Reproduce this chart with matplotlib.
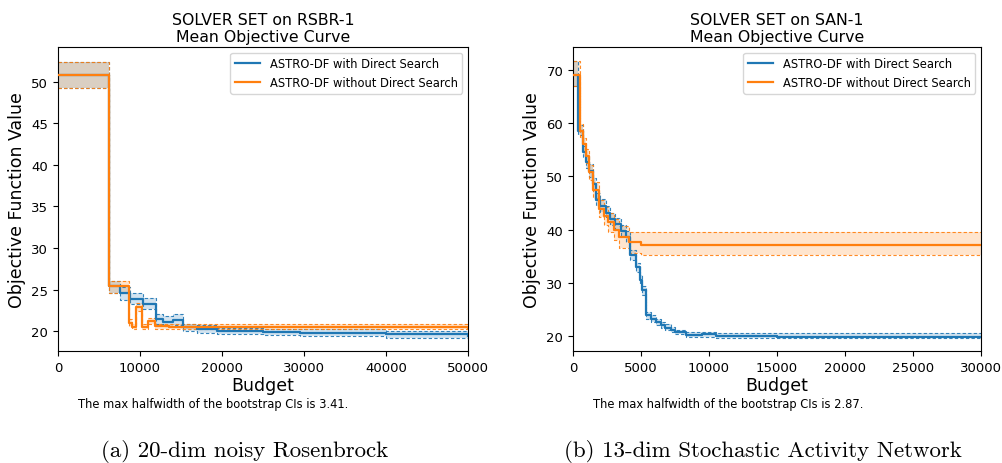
import matplotlib
matplotlib.use('Agg')

import numpy as np
import matplotlib.pyplot as plt

# left panel: RSBR-1 (budget, mean, lower CI, upper CI)
rsbr_with_x = [0, 6200, 7600, 8800, 10400, 12000, 12800, 14000, 15300, 17000,
               19400, 25000, 29500, 40000, 50000]
rsbr_with_y = [50.8, 25.4, 24.6, 23.9, 23.3, 21.4, 21.1, 21.3, 20.5, 20.3,
               20.0, 19.9, 19.75, 19.6, 19.45]
rsbr_with_lo = [49.3, 24.6, 23.8, 23.2, 22.7, 20.8, 20.6, 20.7, 20.0, 19.8,
                19.6, 19.5, 19.35, 19.2, 19.1]
rsbr_with_hi = [52.4, 26.0, 25.3, 24.6, 24.0, 22.0, 21.8, 22.0, 20.9, 20.7,
                20.4, 20.3, 20.2, 20.05, 19.95]

rsbr_wo_x = [0, 6200, 8700, 9000, 9500, 10200, 11000, 11800, 13500, 50000]
rsbr_wo_y = [50.8, 25.4, 21.0, 20.5, 22.9, 20.5, 21.2, 20.6, 20.5, 20.4]
rsbr_wo_lo = [49.3, 24.6, 20.6, 20.2, 22.4, 20.2, 20.8, 20.3, 20.2, 20.1]
rsbr_wo_hi = [52.4, 26.0, 21.4, 20.8, 23.4, 20.8, 21.6, 20.9, 20.8, 20.7]

# right panel: SAN-1
san_with_x = [0, 400, 700, 950, 1200, 1450, 1700, 2000, 2400, 2700, 3100, 3500,
              3900, 4200, 4600, 4900, 5100, 5350, 5700, 6100, 6500, 6800, 7200,
              7500, 8300, 9500, 10500, 15000, 20000, 30000]
san_with_y = [69.1, 58.6, 54.6, 52.7, 51.0, 48.5, 45.6, 44.5, 43.2, 42.0, 41.0,
              39.8, 38.6, 35.2, 32.9, 30.6, 28.6, 23.9, 23.2, 22.6, 22.0, 21.6,
              21.1, 20.7, 20.2, 20.3, 20.0, 19.9, 19.85, 19.8]
san_with_lo = [66.9, 57.8, 53.6, 51.6, 49.8, 47.3, 44.4, 43.4, 42.1, 40.9, 40.0,
               38.8, 37.6, 34.3, 32.0, 29.8, 27.8, 23.2, 22.6, 22.0, 21.5, 21.1,
               20.7, 20.3, 19.9, 19.9, 19.7, 19.6, 19.6, 19.55]
san_with_hi = [71.7, 59.6, 55.7, 53.9, 52.3, 49.7, 46.9, 45.7, 44.4, 43.1, 42.1,
               40.9, 39.7, 36.1, 33.8, 31.5, 29.4, 24.6, 23.9, 23.3, 22.6, 22.2,
               21.7, 21.2, 20.7, 20.8, 20.6, 20.6, 20.55, 20.5]

san_wo_x = [0, 500, 700, 950, 1200, 1500, 1900, 2300, 2600, 3000, 3400, 4100,
            5000, 30000]
san_wo_y = [69.1, 58.6, 56.0, 53.9, 50.8, 47.5, 43.9, 42.5, 41.4, 40.0, 38.6,
            37.6, 37.2, 37.2]
san_wo_lo = [66.9, 57.4, 54.8, 52.6, 49.4, 46.0, 42.3, 40.8, 39.6, 38.1, 36.6,
             35.6, 35.3, 35.3]
san_wo_hi = [71.7, 59.8, 57.2, 55.2, 52.2, 49.0, 45.5, 44.2, 43.2, 41.9, 40.6,
             39.6, 39.5, 39.5]

labels = ["ASTRO-DF with Direct Search", "ASTRO-DF without Direct Search"]
titles = ["SOLVER SET on RSBR-1\nMean Objective Curve",
          "SOLVER SET on SAN-1\nMean Objective Curve"]
halfwidths = ["3.41", "2.87"]
captions = ["(a) 20-dim noisy Rosenbrock", "(b) 13-dim Stochastic Activity Network"]

panels = [
    [(rsbr_with_x, rsbr_with_y, rsbr_with_lo, rsbr_with_hi),
     (rsbr_wo_x, rsbr_wo_y, rsbr_wo_lo, rsbr_wo_hi)],
    [(san_with_x, san_with_y, san_with_lo, san_with_hi),
     (san_wo_x, san_wo_y, san_wo_lo, san_wo_hi)],
]
xlims = [(0, 50000), (0, 30000)]
ylims = [(17.6, 54.2), (17.2, 74.3)]
yticks = [[20, 25, 30, 35, 40, 45, 50], [20, 30, 40, 50, 60, 70]]

colors = ["#1f77b4", "#ff7f0e"]

fig = plt.figure(figsize=(10.03, 4.64), dpi=100)

axes_rects = [
    [58 / 1003, 1 - 352 / 464, 410 / 1003, 304 / 464],
    [573 / 1003, 1 - 352 / 464, 408 / 1003, 304 / 464],
]

for i in range(2):
    ax = fig.add_axes(axes_rects[i])
    for j, (x, y, lo, hi) in enumerate(panels[i]):
        c = colors[j]
        ax.step(x, y, where="post", color=c, lw=1.6, label=labels[j], zorder=3)
        ax.step(x, lo, where="post", color=c, lw=0.8, ls=(0, (3, 2)), alpha=0.9)
        ax.step(x, hi, where="post", color=c, lw=0.8, ls=(0, (3, 2)), alpha=0.9)
        ax.fill_between(x, lo, hi, step="post", color=c, alpha=0.2, lw=0)
    ax.set_xlim(*xlims[i])
    ax.set_ylim(*ylims[i])
    ax.set_yticks(yticks[i])
    ax.tick_params(labelsize=9.5)
    ax.set_xlabel("Budget", fontsize=12.5, labelpad=2)
    ax.set_ylabel("Objective Function Value", fontsize=12.5)
    ax.set_title(titles[i], fontsize=11.3, pad=4)
    ax.legend(loc="upper right", fontsize=8.3, handlelength=2.2)

    # halfwidth note under the axes
    x0 = axes_rects[i][0] + 20 / 1003
    fig.text(x0, 1 - 405 / 464,
             "The max halfwidth of the bootstrap CIs is " + halfwidths[i] + ".",
             fontsize=8.3, va="center", ha="left")

fig.text(245 / 1003, 1 - 452 / 464, captions[0], family="cmr10",
         fontsize=16.5, ha="center", va="center")
fig.text(763 / 1003, 1 - 452 / 464, captions[1], family="cmr10",
         fontsize=16.5, ha="center", va="center")

fig.savefig("out.png", dpi=100)
